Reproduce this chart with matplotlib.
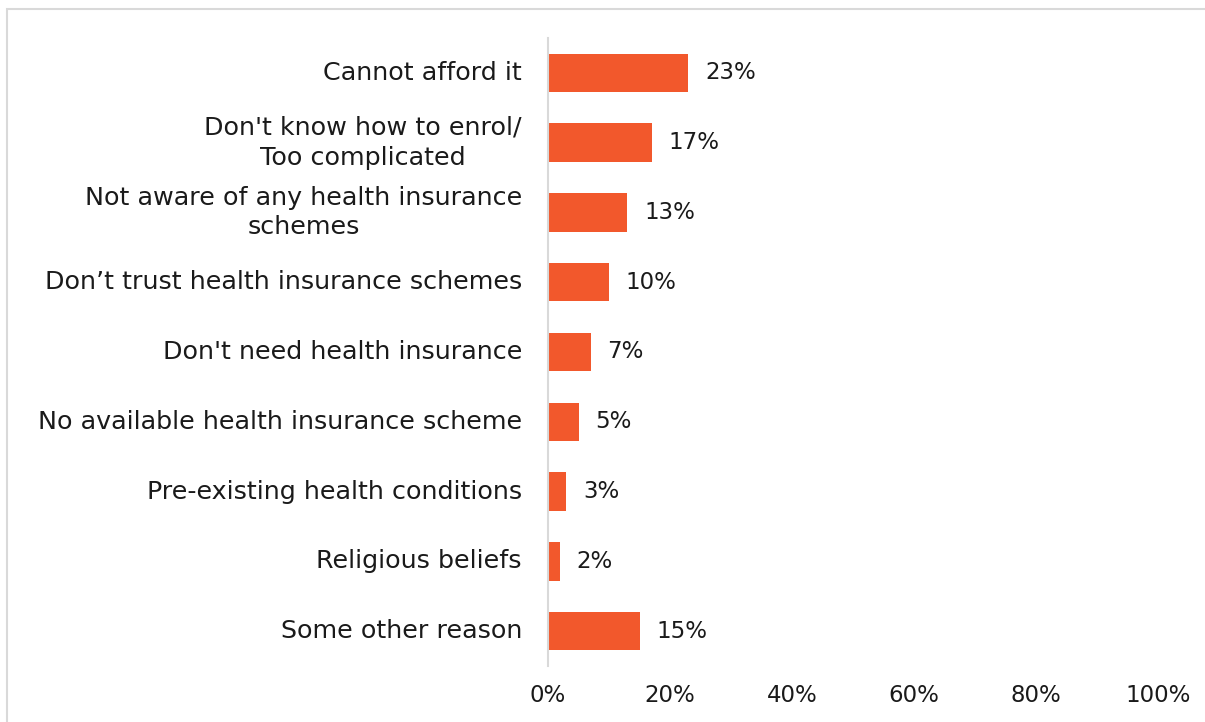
import matplotlib
matplotlib.use('Agg')
import matplotlib.pyplot as plt
from matplotlib.patches import Rectangle
from matplotlib.transforms import offset_copy

reasons = [
    "Cannot afford it",
    "Don't know how to enrol/\nToo complicated",
    "Not aware of any health insurance\nschemes",
    "Don\u2019t trust health insurance schemes",
    "Don't need health insurance",
    "No available health insurance scheme",
    "Pre-existing health conditions",
    "Religious beliefs",
    "Some other reason",
]
shares = [23, 17, 13, 10, 7, 5, 3, 2, 15]
xticks = [0, 20, 40, 60, 80, 100]
xtick_labels = ["0%", "20%", "40%", "60%", "80%", "100%"]

bar_color = '#F2582C'
text_color = '#1a1a1a'
plt.rcParams['font.family'] = ['DejaVu Sans']

fig = plt.figure(figsize=(12.05, 7.22), dpi=100)
ax = fig.add_axes([548/1205, 1 - 666/722, 610/1205, 628/722])

pos = list(range(len(reasons)))
ax.barh(pos, shares, height=0.55, color=bar_color)
ax.set_ylim(len(reasons) - 0.5, -0.5)
ax.set_xlim(0, 100)

for y, v in zip(pos, shares):
    ax.annotate(f"{v}%", xy=(v, y), xytext=(12, 0), textcoords='offset points',
                ha='left', va='center', fontsize=16.5, color=text_color)

# category labels, right edge just left of the axis, lines centred
label_tf = offset_copy(ax.get_yaxis_transform(), fig=fig, x=-26, y=0, units='dots')
for y, name in zip(pos, reasons):
    ax.text(0, y, name, transform=label_tf, ha='right', va='center',
            multialignment='center', fontsize=18.3, color=text_color,
            linespacing=1.3)

ax.set_yticks([])
ax.set_xticks(xticks)
ax.set_xticklabels(xtick_labels, fontsize=16.5, color=text_color)
ax.tick_params(axis='both', length=0)
ax.tick_params(axis='x', pad=13)

for s in ['top', 'right', 'bottom']:
    ax.spines[s].set_visible(False)
ax.spines['left'].set_color('#d9d9d9')
ax.spines['left'].set_linewidth(1.5)

fig.patches.append(Rectangle((7/1205, -0.05), 1.1, 1 - 9/722 + 0.05,
                             transform=fig.transFigure, fill=False,
                             edgecolor='#d9d9d9', linewidth=1.5))

fig.savefig("out.png", dpi=100)
